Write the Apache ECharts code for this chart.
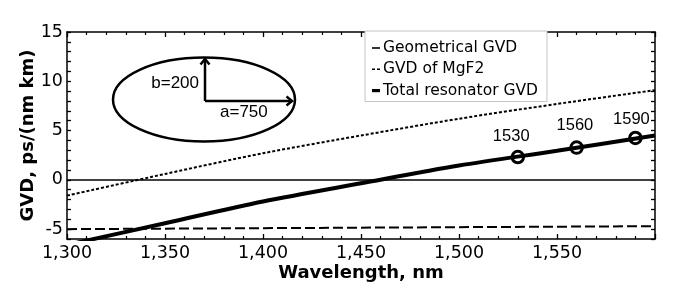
<!DOCTYPE html>
<html>
<head>
<meta charset="utf-8">
<script src="https://cdn.jsdelivr.net/npm/echarts@6/dist/echarts.min.js"></script>
<style>html,body{margin:0;padding:0;background:#fff}#c{width:676px;height:301px}</style>
</head>
<body>
<div id="c"></div>
<script>
// ---- data ----
var wavelengths  = [1300, 1350, 1400, 1450, 1500, 1550, 1600];
var geometricGVD = [-5.0, -4.95, -4.9, -4.85, -4.8, -4.75, -4.7];
var mgf2GVD      = [-1.6, 0.6, 2.7, 4.5, 6.2, 7.7, 9.1];
var totalGVD     = [-6.6, -4.4, -2.2, -0.35, 1.45, 2.95, 4.5];
var markWavelengths = [1530, 1560, 1590];
var markGVD         = [2.31, 3.27, 4.25];
var seriesNames = ['Geometrical GVD', 'GVD of MgF2', 'Total resonator GVD'];
var xLabelValues = [1300, 1350, 1400, 1450, 1500, 1550];
var yLabelValues = [-5, 0, 5, 10, 15];

function pairs(xs, ys){ return xs.map(function(x,i){ return [x, ys[i]]; }); }
function fmtComma(v){ var t = Math.floor(v/1000), r = String(v%1000); while(r.length<3) r='0'+r; return t + ',' + r; }

var FONT = 'DejaVu Sans';
var labelOffsets = [[-6.6, 0], [-1.7, -1.6], [-4, 2.3]];
var legendIcons = [
  'path://M0,0 L8,0 L8,1.6 L0,1.6 Z',
  'path://M0,0 L3,0 L3,1.6 L0,1.6 Z M5,0 L8,0 L8,1.6 L5,1.6 Z',
  'path://M0,0 L8,0 L8,3.2 L0,3.2 Z'
];

var chart = echarts.init(document.getElementById('c'));
var tickCommon = { show: true, inside: true, length: 4, lineStyle: { color: '#000', width: 1.3 } };
var option = {
  animation: false,
  backgroundColor: '#fff',
  grid: { left: 67, right: 21, top: 32, bottom: 62, containLabel: false },
  legend: {
    orient: 'vertical', left: 365, top: 31,
    data: seriesNames.map(function(n, i){ return { name: n, icon: legendIcons[i], itemStyle: { color: '#000', borderWidth: 0 } }; }),
    itemWidth: 8, itemHeight: 14, itemGap: 5.3,
    padding: [9, 9, 3, 7],
    backgroundColor: '#fff', borderColor: '#c4c4c4', borderWidth: 1,
    textStyle: { fontFamily: FONT, fontSize: 15.5, color: '#000', lineHeight: 16, padding: [0,0,0,-2] }
  },
  xAxis: [{
    type: 'value', min: 1300, max: 1600, interval: 50,
    name: 'Wavelength, nm', nameLocation: 'middle', nameGap: 25, nameMoveOverlap: false,
    nameTextStyle: { fontFamily: FONT, fontWeight: 'bold', fontSize: 18, color: '#000' },
    axisLine: { show: true, onZero: false, lineStyle: { color: '#000', width: 1.5 } },
    axisTick: Object.assign({}, tickCommon, { length: 5 }),
    minorTick: { show: true, splitNumber: 5, length: 3, lineStyle: { color: '#000', width: 1.2 } },
    splitLine: { show: false }, minorSplitLine: { show: false },
    axisLabel: { margin: 5, fontFamily: FONT, fontSize: 17.5, color: '#000',
      formatter: function(v){ return xLabelValues.indexOf(v) >= 0 ? fmtComma(v) : ''; } }
  }, {
    type: 'value', position: 'top', min: 1300, max: 1600, interval: 50,
    axisLine: { show: true, onZero: false, lineStyle: { color: '#000', width: 1.5 } },
    axisTick: Object.assign({}, tickCommon, { length: 5 }),
    minorTick: { show: true, splitNumber: 5, length: 3, lineStyle: { color: '#000', width: 1.2 } },
    splitLine: { show: false }, axisLabel: { show: false }
  }],
  yAxis: [{
    type: 'value', min: -6, max: 15, interval: 1,
    name: 'GVD, ps/(nm km)', nameLocation: 'middle', nameGap: 30, nameRotate: 90, nameMoveOverlap: false,
    nameTextStyle: { fontFamily: FONT, fontWeight: 'bold', fontSize: 18, color: '#000' },
    axisLine: { show: true, onZero: false, lineStyle: { color: '#000', width: 1.5 } },
    axisTick: tickCommon,
    splitLine: { show: false },
    axisLabel: { margin: 4, fontFamily: FONT, fontSize: 17.5, color: '#000',
      formatter: function(v){ return yLabelValues.indexOf(v) >= 0 ? String(v) : ''; } }
  }, {
    type: 'value', position: 'right', min: -6, max: 15, interval: 1,
    axisLine: { show: true, onZero: false, lineStyle: { color: '#000', width: 1.5 } },
    axisTick: tickCommon, splitLine: { show: false }, axisLabel: { show: false }
  }],
  series: [{
    name: seriesNames[0], type: 'line', data: pairs(wavelengths, geometricGVD),
    showSymbol: false, symbol: 'none', smooth: false,
    lineStyle: { color: '#000', width: 2, type: [10, 4] }, itemStyle: { color: '#000' },
    markLine: { silent: true, symbol: 'none', label: { show: false },
      lineStyle: { color: '#000', width: 1.5, type: 'solid' }, data: [{ yAxis: 0 }] }
  }, {
    name: seriesNames[1], type: 'line', data: pairs(wavelengths, mgf2GVD),
    showSymbol: false, symbol: 'none', smooth: 0.3,
    lineStyle: { color: '#000', width: 2, type: [3, 2] }, itemStyle: { color: '#000' }
  }, {
    name: seriesNames[2], type: 'line', data: pairs(wavelengths, totalGVD),
    showSymbol: false, symbol: 'none', smooth: 0.3, clip: true,
    lineStyle: { color: '#000', width: 4 }, itemStyle: { color: '#000' }
  }, {
    name: 'marks', type: 'scatter', z: 5,
    symbol: 'circle', symbolSize: 11.5,
    itemStyle: { color: 'rgba(255,255,255,0)', borderColor: '#000', borderWidth: 3, opacity: 1 },
    label: { show: true, position: 'top', distance: 5, fontFamily: 'Liberation Sans', fontSize: 16.5, color: '#000',
      formatter: function(p){ return String(p.value[0]); } },
    data: markWavelengths.map(function(w, i){
      return { value: [w, markGVD[i]], label: { offset: labelOffsets[i] } };
    })
  }],
  graphic: [
    { type: 'ellipse', shape: { cx: 204, cy: 99.5, rx: 91, ry: 42 }, z: 10,
      style: { fill: 'none', stroke: '#000', lineWidth: 2.5 } },
    { type: 'polyline', shape: { points: [[205, 101], [205, 59]] }, z: 10, style: { stroke: '#000', lineWidth: 2.5, fill: 'none' } },
    { type: 'polyline', shape: { points: [[200.5, 64.5], [205, 59], [209.5, 64.5]] }, z: 10, style: { stroke: '#000', lineWidth: 2.5, fill: 'none' } },
    { type: 'polyline', shape: { points: [[205, 101], [292, 101]] }, z: 10, style: { stroke: '#000', lineWidth: 2.5, fill: 'none' } },
    { type: 'polyline', shape: { points: [[286.5, 96.5], [292, 101], [286.5, 105.5]] }, z: 10, style: { stroke: '#000', lineWidth: 2.5, fill: 'none' } },
    { type: 'text', x: 199, y: 83, z: 10, style: { text: 'b=200', align: 'right', verticalAlign: 'middle', font: '17px "Liberation Sans"', fill: '#000' } },
    { type: 'text', x: 220, y: 112, z: 10, style: { text: 'a=750', align: 'left', verticalAlign: 'middle', font: '17px "Liberation Sans"', fill: '#000' } }
  ]
};
chart.setOption(option);
</script>
</body>
</html>
